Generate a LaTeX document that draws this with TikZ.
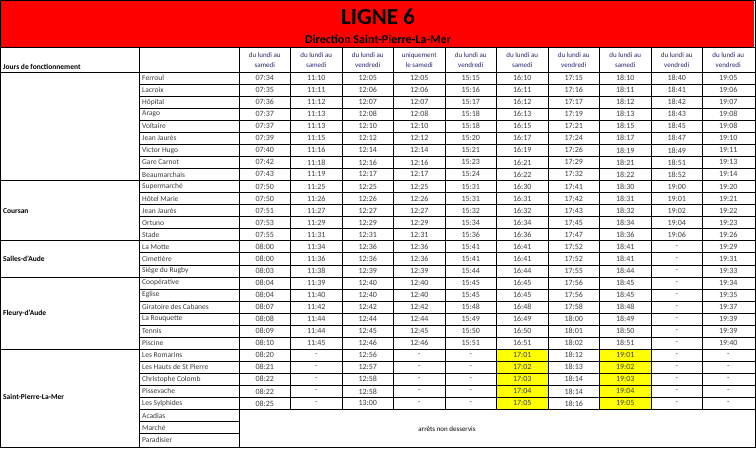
\documentclass[tikz,border=0pt]{standalone}
\usepackage{fontspec}
\setmainfont{Carlito}
\usetikzlibrary{calc}

\definecolor{bannerred}{RGB}{255,0,0}
\definecolor{cellyellow}{RGB}{255,255,0}
\definecolor{headblue}{RGB}{40,40,110}
\definecolor{timegray}{RGB}{60,60,60}

% row height and column positions
\newcommand{\rowh}{12.05}
\newcommand{\toprow}{72}
\newcommand{\colw}{51.5}
\newcommand{\colx}{239}

% one stop: row index, stop name, ten times
\newcommand{\stoprow}[3]{%
  \node[stopname] (s#1) at (142,{\toprow+(#1+0.5)*\rowh}) {#2};
  \foreach \t [count=\c] in {#3}
    \node[timecell] (t#1-\c) at ({\colx+(\c-0.5)*\colw},{\toprow+(#1+0.5)*\rowh}) {\t};
}

\begin{document}
\begin{tikzpicture}[x=1pt,y=-1pt,
    stopname/.style={anchor=west,font=\fontsize{7.5}{8}\selectfont,text=timegray,inner sep=0pt},
    timecell/.style={font=\fontsize{8}{8}\selectfont,text=timegray,inner sep=0pt},
    headcell/.style={align=center,font=\fontsize{7}{10}\selectfont,text=headblue,inner sep=0pt},
    townname/.style={anchor=west,font=\bfseries\fontsize{7.5}{8}\selectfont,inner sep=0pt},
    gridline/.style={line width=0.6pt}]
  \useasboundingbox (0,0) rectangle (756,448);
  % banner
  \fill[bannerred] (1,1) rectangle (754,47);
  \node[font=\bfseries\fontsize{23}{24}\selectfont] (title) at (378,17) {LIGNE 6};
  \node[font=\bfseries\fontsize{12}{13}\selectfont] (direction) at (378,39) {Direction Saint-Pierre-La-Mer};
  % yellow cells
  \foreach \c in {6,8}
    \fill[cellyellow] ({\colx+(\c-1)*\colw},{\toprow+23*\rowh}) rectangle ({\colx+\c*\colw},{\toprow+28*\rowh});
  % header row
  \node[townname] (jours) at (3,67) {Jours de fonctionnement};
  \foreach \h [count=\c] in {{du lundi au\\samedi},{du lundi au\\samedi},{du lundi au\\vendredi},
      {uniquement\\le samedi},{du lundi au\\vendredi},{du lundi au\\samedi},{du lundi au\\vendredi},
      {du lundi au\\samedi},{du lundi au\\vendredi},{du lundi au\\vendredi}}
    \node[headcell] (h\c) at ({\colx+(\c-0.5)*\colw},60) {\h};
  % grid
  \draw[gridline] (0,47.5) -- (756,47.5);
  \draw[gridline] (0,\toprow) -- (756,\toprow);
  \foreach \r in {1,...,28}
    \draw[gridline] (139,{\toprow+\r*\rowh}) -- (756,{\toprow+\r*\rowh});
  \foreach \r in {29,30}
    \draw[gridline] (139,{\toprow+\r*\rowh}) -- (\colx,{\toprow+\r*\rowh});
  \foreach \r in {9,14,17,23}
    \draw[gridline] (0,{\toprow+\r*\rowh}) -- (139,{\toprow+\r*\rowh});
  \draw[gridline] (139,47.5) -- (139,447);
  \draw[gridline] (\colx,47.5) -- (\colx,447);
  \foreach \c in {1,...,9}
    \draw[gridline] ({\colx+\c*\colw},47.5) -- ({\colx+\c*\colw},{\toprow+28*\rowh});
  \draw[line width=1.2pt] (0.6,0.6) rectangle (755.4,447.4);
  % towns
  \node[townname] (coursan) at (3,{\toprow+11.5*\rowh}) {Coursan};
  \node[townname] (salles) at (3,{\toprow+15.5*\rowh}) {Salles-d'Aude};
  \node[townname] (fleury) at (3,{\toprow+20*\rowh}) {Fleury-d'Aude};
  \node[townname] (stpierre) at (3,{\toprow+27*\rowh}) {Saint-Pierre-La-Mer};
  % stops
  \stoprow{0}{Ferroul}{07:34,11:10,12:05,12:05,15:15,16:10,17:15,18:10,18:40,19:05}
  \stoprow{1}{Lacroix}{07:35,11:11,12:06,12:06,15:16,16:11,17:16,18:11,18:41,19:06}
  \stoprow{2}{Hôpital}{07:36,11:12,12:07,12:07,15:17,16:12,17:17,18:12,18:42,19:07}
  \stoprow{3}{Arago}{07:37,11:13,12:08,12:08,15:18,16:13,17:19,18:13,18:43,19:08}
  \stoprow{4}{Voltaire}{07:37,11:13,12:10,12:10,15:18,16:15,17:21,18:15,18:45,19:08}
  \stoprow{5}{Jean Jaurès}{07:39,11:15,12:12,12:12,15:20,16:17,17:24,18:17,18:47,19:10}
  \stoprow{6}{Victor Hugo}{07:40,11:16,12:14,12:14,15:21,16:19,17:26,18:19,18:49,19:11}
  \stoprow{7}{Gare Carnot}{07:42,11:18,12:16,12:16,15:23,16:21,17:29,18:21,18:51,19:13}
  \stoprow{8}{Beaumarchais}{07:43,11:19,12:17,12:17,15:24,16:22,17:32,18:22,18:52,19:14}
  \stoprow{9}{Supermarché}{07:50,11:25,12:25,12:25,15:31,16:30,17:41,18:30,19:00,19:20}
  \stoprow{10}{Hôtel Marie}{07:50,11:26,12:26,12:26,15:31,16:31,17:42,18:31,19:01,19:21}
  \stoprow{11}{Jean Jaurès}{07:51,11:27,12:27,12:27,15:32,16:32,17:43,18:32,19:02,19:22}
  \stoprow{12}{Ortuno}{07:53,11:29,12:29,12:29,15:34,16:34,17:45,18:34,19:04,19:23}
  \stoprow{13}{Stade}{07:55,11:31,12:31,12:31,15:36,16:36,17:47,18:36,19:06,19:26}
  \stoprow{14}{La Motte}{08:00,11:34,12:36,12:36,15:41,16:41,17:52,18:41,-,19:29}
  \stoprow{15}{Cimetière}{08:00,11:36,12:36,12:36,15:41,16:41,17:52,18:41,-,19:31}
  \stoprow{16}{Siège du Rugby}{08:03,11:38,12:39,12:39,15:44,16:44,17:55,18:44,-,19:33}
  \stoprow{17}{Coopérative}{08:04,11:39,12:40,12:40,15:45,16:45,17:56,18:45,-,19:34}
  \stoprow{18}{Eglise}{08:04,11:40,12:40,12:40,15:45,16:45,17:56,18:45,-,19:35}
  \stoprow{19}{Giratoire des Cabanes}{08:07,11:42,12:42,12:42,15:48,16:48,17:58,18:48,-,19:37}
  \stoprow{20}{La Rouquette}{08:08,11:44,12:44,12:44,15:49,16:49,18:00,18:49,-,19:39}
  \stoprow{21}{Tennis}{08:09,11:44,12:45,12:45,15:50,16:50,18:01,18:50,-,19:39}
  \stoprow{22}{Piscine}{08:10,11:45,12:46,12:46,15:51,16:51,18:02,18:51,-,19:40}
  \stoprow{23}{Les Romarins}{08:20,-,12:56,-,-,17:01,18:12,19:01,-,-}
  \stoprow{24}{Les Hauts de St Pierre}{08:21,-,12:57,-,-,17:02,18:13,19:02,-,-}
  \stoprow{25}{Christophe Colomb}{08:22,-,12:58,-,-,17:03,18:14,19:03,-,-}
  \stoprow{26}{Pissevache}{08:22,-,12:58,-,-,17:04,18:14,19:04,-,-}
  \stoprow{27}{Les Sylphides}{08:25,-,13:00,-,-,17:05,18:16,19:05,-,-}
  \node[stopname] (s28) at (142,{\toprow+28.5*\rowh}) {Acadias};
  \node[stopname] (s29) at (142,{\toprow+29.5*\rowh}) {Marché};
  \node[stopname] (s30) at (142,{\toprow+30.5*\rowh}) {Paradisier};
  \node[font=\fontsize{7}{8}\selectfont] (nonserved) at (447,{\toprow+29.6*\rowh}) {arrêts non desservis};
\end{tikzpicture}
\end{document}
